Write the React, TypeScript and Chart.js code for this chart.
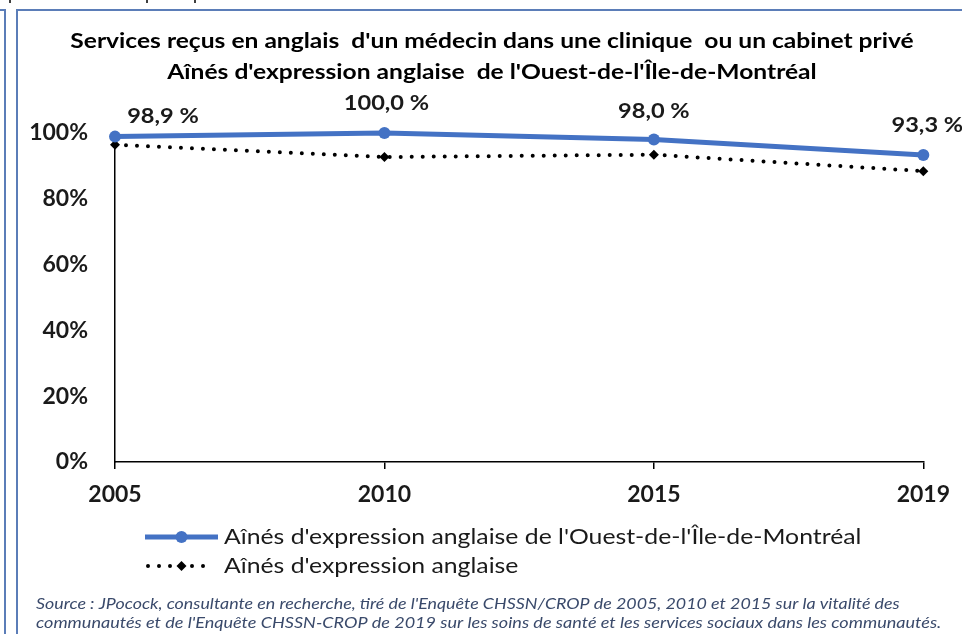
import React, { useEffect, useRef } from 'react';
import { Chart, registerables } from 'chart.js';

Chart.register(...registerables);

const years = ['2005', '2010', '2015', '2019'];
const westIslandSeniors = [98.9, 100.0, 98.0, 93.3];
const englishSeniors = [96.4, 92.7, 93.4, 88.4];
const westIslandLabels = ['98,9 %', '100,0 %', '98,0 %', '93,3 %'];
const titleLines = [
  "Services reçus en anglais  d'un médecin dans une clinique  ou un cabinet privé",
  "Aînés d'expression anglaise  de l'Ouest-de-l'Île-de-Montréal",
];
const legendLabels = [
  "Aînés d'expression anglaise de l'Ouest-de-l'Île-de-Montréal",
  "Aînés d'expression anglaise",
];
const sourceLines = [
  "Source : JPocock, consultante en recherche, tiré de l'Enquête CHSSN/CROP de 2005, 2010 et 2015 sur la vitalité des",
  "communautés et de l'Enquête CHSSN-CROP de 2019 sur les soins de santé et les services sociaux dans les communautés.",
];
// label offsets relative to each point (style)
const labelOffsets = [
  [48, -20],
  [2, -29],
  [0, -28],
  [4, -29],
];

const BLUE = '#4472C4';
const FRAME = '#5B7DB8';
const FONT = 'Lato, "Open Sans", sans-serif';

function fillStretched(ctx: CanvasRenderingContext2D, text: string, x: number, y: number, sx: number) {
  ctx.save();
  ctx.translate(x, y);
  ctx.scale(sx, 1);
  ctx.fillText(text, 0, 0);
  ctx.restore();
}

const decorPlugin = {
  id: 'decor',
  beforeDraw(chart: any) {
    const ctx = chart.ctx;
    ctx.save();
    ctx.fillStyle = '#fff';
    ctx.fillRect(0, 0, chart.width, chart.height);
    ctx.strokeStyle = FRAME;
    ctx.lineWidth = 2;
    ctx.beginPath();
    ctx.moveTo(0, 10);
    ctx.lineTo(5, 10);
    ctx.lineTo(5, chart.height);
    ctx.moveTo(17, chart.height);
    ctx.lineTo(17, 10);
    ctx.lineTo(chart.width, 10);
    ctx.stroke();
    ctx.strokeStyle = '#000';
    ctx.lineWidth = 1.5;
    ctx.beginPath();
    [10, 147, 195].forEach((x) => {
      ctx.moveTo(x, 0);
      ctx.lineTo(x, 3);
    });
    ctx.stroke();
    ctx.restore();
  },
  afterDraw(chart: any) {
    const ctx = chart.ctx;
    ctx.save();
    // title
    ctx.fillStyle = '#000';
    ctx.textAlign = 'center';
    ctx.textBaseline = 'middle';
    ctx.font = `bold 20px ${FONT}`;
    fillStretched(ctx, titleLines[0], 492, 42, 1.23);
    fillStretched(ctx, titleLines[1], 492, 73, 1.23);

    // data labels
    const meta = chart.getDatasetMeta(0);
    ctx.font = `bold 20px ${FONT}`;
    ctx.fillStyle = '#1a1a1a';
    meta.data.forEach((pt: any, i: number) => {
      const [dx, dy] = labelOffsets[i];
      fillStretched(ctx, westIslandLabels[i], pt.x + dx, pt.y + dy, 1.18);
    });

    // legend
    const lx0 = 145;
    const lx1 = 218;
    const lmid = (lx0 + lx1) / 2;
    const ly1 = 537;
    const ly2 = 566;
    ctx.strokeStyle = BLUE;
    ctx.lineWidth = 5;
    ctx.beginPath();
    ctx.moveTo(lx0, ly1);
    ctx.lineTo(lx1, ly1);
    ctx.stroke();
    ctx.fillStyle = BLUE;
    ctx.beginPath();
    ctx.arc(lmid, ly1, 6, 0, Math.PI * 2);
    ctx.fill();

    ctx.strokeStyle = '#000';
    ctx.lineWidth = 4;
    ctx.lineCap = 'round';
    ctx.setLineDash([0, 11]);
    ctx.beginPath();
    ctx.moveTo(lx0 + 3, ly2);
    ctx.lineTo(lx1 - 4, ly2);
    ctx.stroke();
    ctx.setLineDash([]);
    ctx.fillStyle = '#000';
    ctx.beginPath();
    ctx.moveTo(lmid, ly2 - 5);
    ctx.lineTo(lmid + 5, ly2);
    ctx.lineTo(lmid, ly2 + 5);
    ctx.lineTo(lmid - 5, ly2);
    ctx.closePath();
    ctx.fill();

    ctx.textAlign = 'left';
    ctx.fillStyle = '#1a1a1a';
    ctx.font = `21px ${FONT}`;
    fillStretched(ctx, legendLabels[0], 224, ly1, 1.18);
    fillStretched(ctx, legendLabels[1], 224, ly2, 1.18);

    // source
    ctx.fillStyle = '#3A4A6B';
    ctx.font = `italic 14.5px ${FONT}`;
    fillStretched(ctx, sourceLines[0], 36, 604, 1.23);
    fillStretched(ctx, sourceLines[1], 36, 623, 1.245);
    ctx.restore();
  },
};

export default function App() {
  const ref = useRef<HTMLCanvasElement>(null);
  useEffect(() => {
    if (!ref.current) return;
    const chart = new Chart(ref.current, {
      type: 'line',
      data: {
        labels: years,
        datasets: [
          {
            label: legendLabels[0],
            data: westIslandSeniors,
            borderColor: BLUE,
            backgroundColor: BLUE,
            borderWidth: 5,
            pointRadius: 6,
            pointBackgroundColor: BLUE,
            pointBorderWidth: 0,
            tension: 0,
            clip: false,
          },
          {
            label: legendLabels[1],
            data: englishSeniors,
            borderColor: '#000',
            backgroundColor: '#000',
            borderWidth: 4,
            borderDash: [0, 11],
            borderCapStyle: 'round',
            pointStyle: 'rectRot',
            pointRadius: 5,
            pointBackgroundColor: '#000',
            pointBorderWidth: 0,
            tension: 0,
            clip: false,
          },
        ],
      },
      options: {
        animation: false,
        responsive: false,
        layout: { padding: { top: 133, right: 34, bottom: 112, left: 0 } },
        plugins: { legend: { display: false }, title: { display: false }, tooltip: { enabled: false } },
        scales: {
          x: {
            offset: false,
            grid: { drawOnChartArea: false, drawTicks: true, tickLength: 7, color: '#000', lineWidth: 1.5 },
            border: { display: true, color: '#000', width: 1.5 },
            ticks: { color: '#1a1a1a', font: { family: FONT, size: 23, weight: 'bold' }, padding: 12, maxRotation: 0 },
            afterFit: (s: any) => {
              s.height = 60;
            },
          },
          y: {
            min: 0,
            max: 100,
            ticks: {
              stepSize: 20,
              color: '#1a1a1a',
              font: { family: FONT, size: 23, weight: 'bold' },
              padding: 27,
              callback: (v: any) => v + '%',
            },
            grid: { display: false, drawTicks: false },
            border: { display: true, color: '#000', width: 1.5 },
            afterFit: (s: any) => {
              s.width = 115;
            },
          },
        },
      },
      plugins: [decorPlugin],
    });
    return () => chart.destroy();
  }, []);
  return (
    <div style={{ position: 'absolute', left: 0, top: 0, width: 962, height: 634 }}>
      <canvas ref={ref} width={962} height={634} style={{ width: 962, height: 634, display: 'block' }} />
    </div>
  );
}
